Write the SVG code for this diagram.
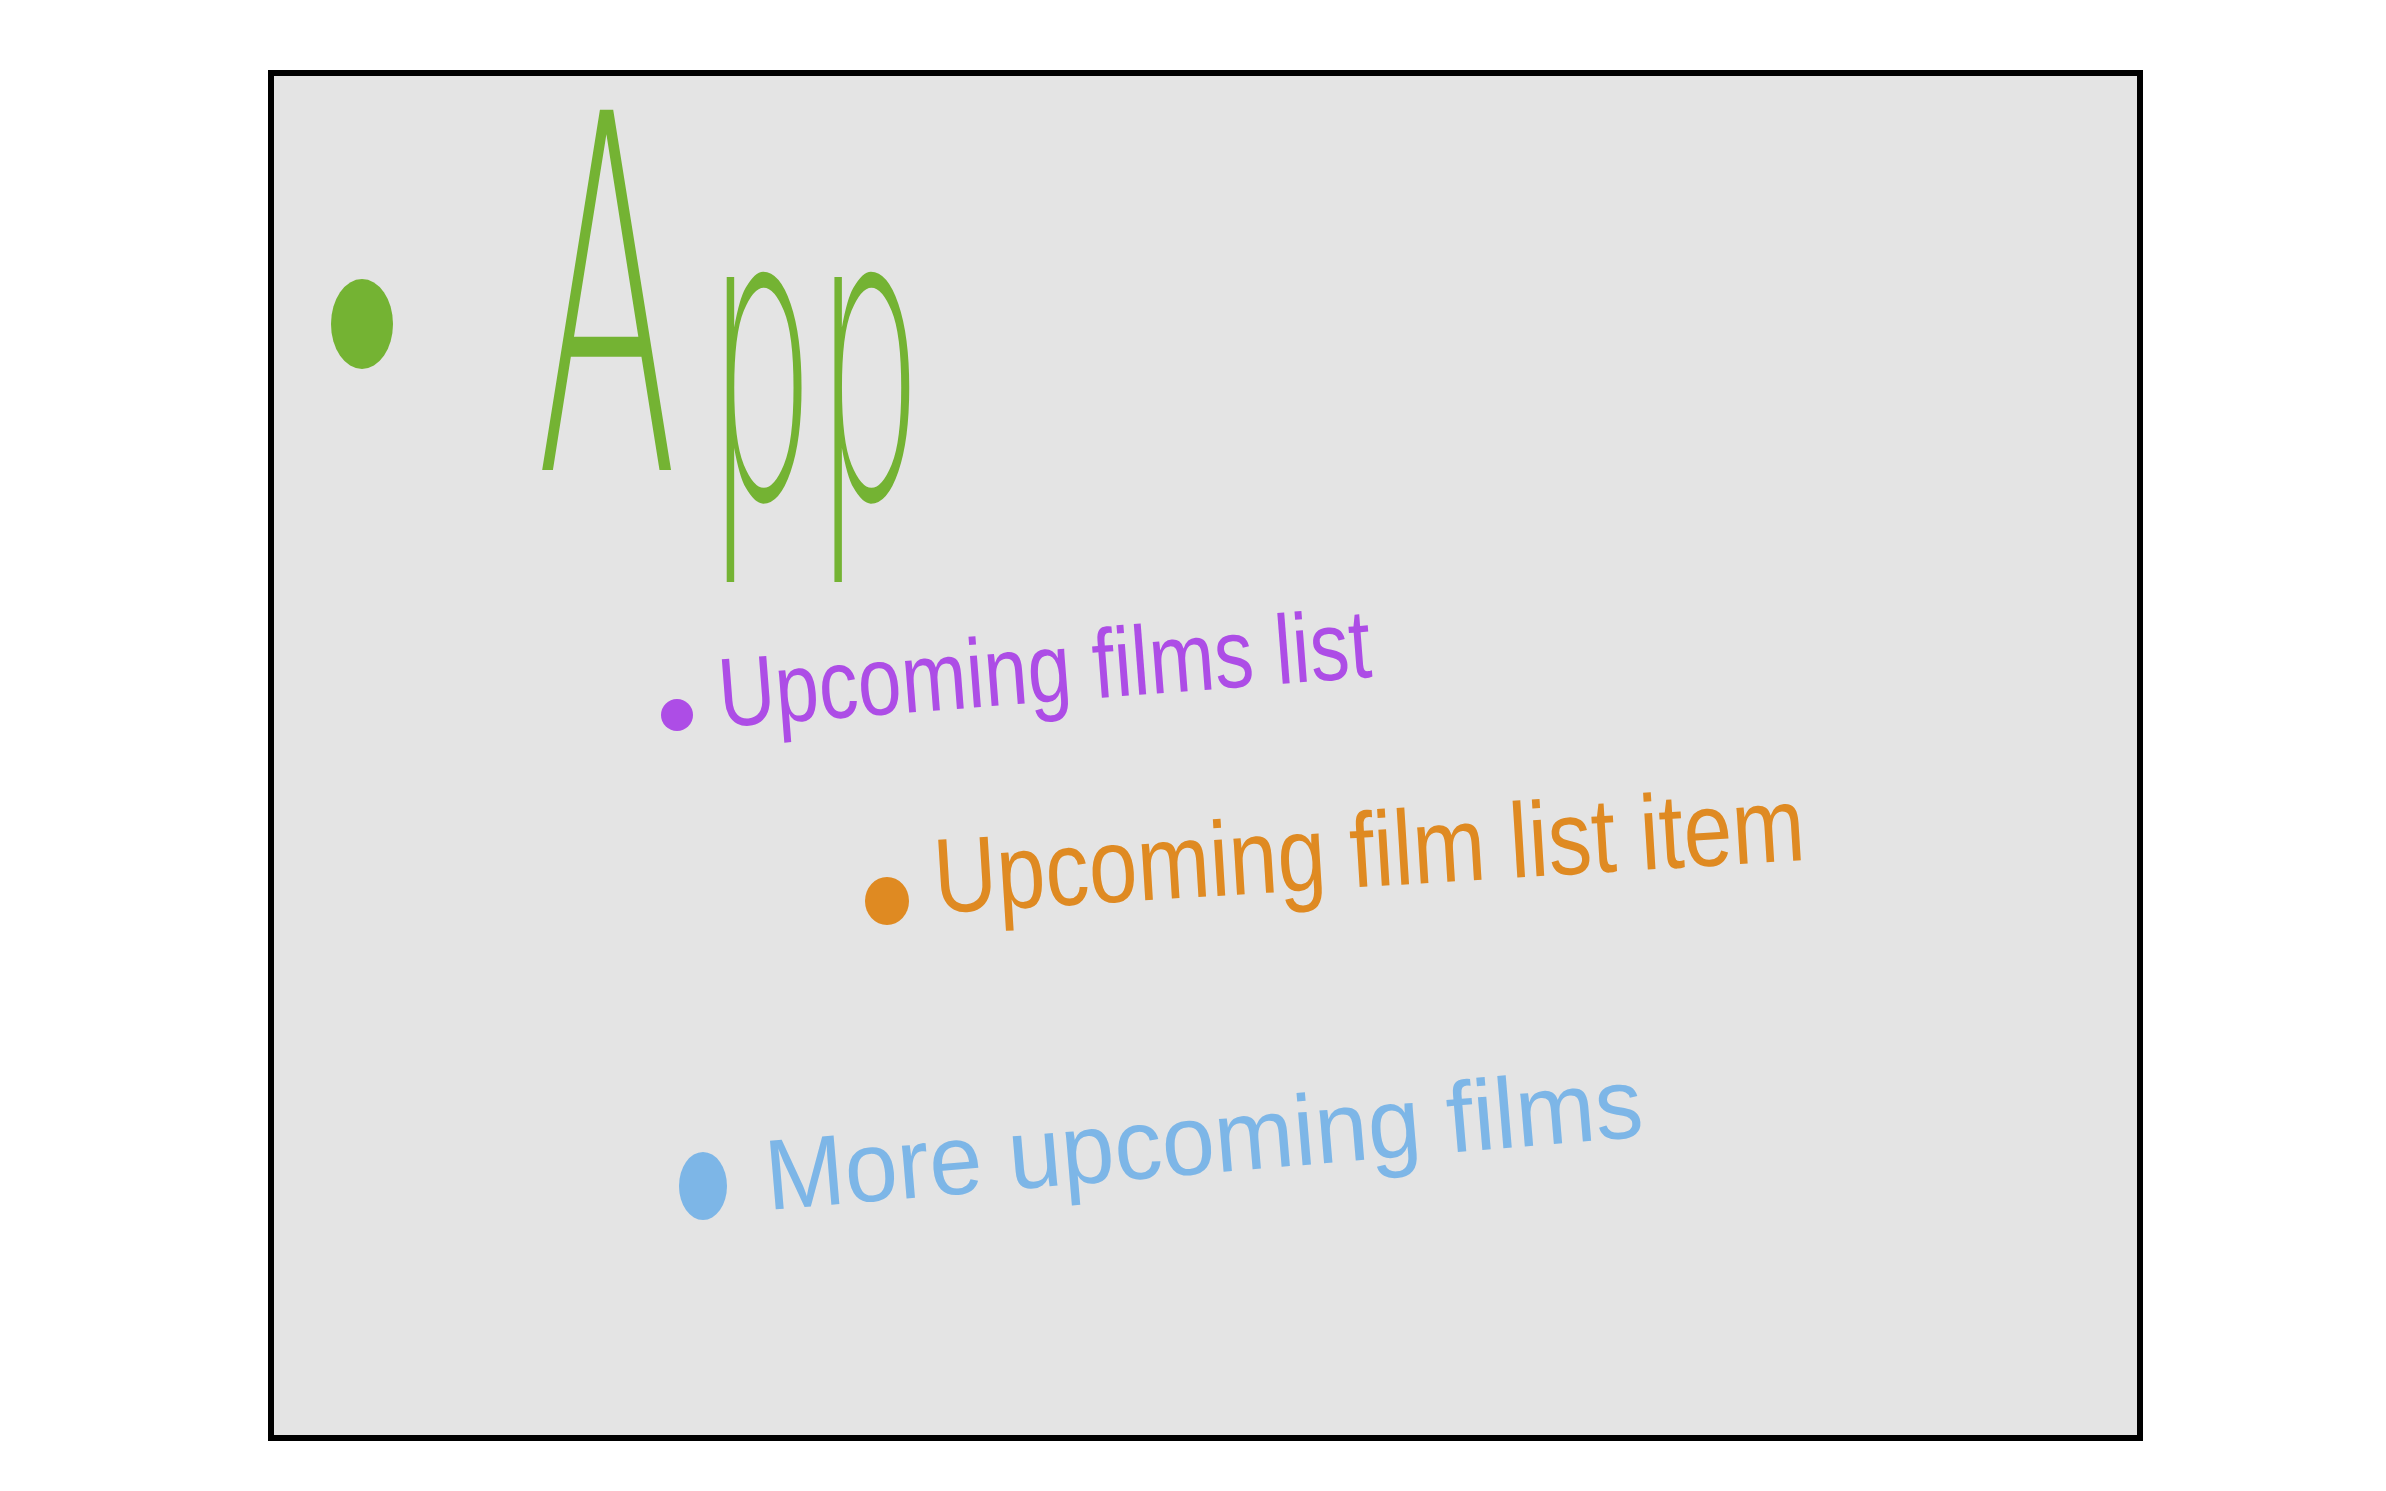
<svg xmlns="http://www.w3.org/2000/svg" width="2386" height="1491" viewBox="0 0 2386 1491">
  <style>
    .frame { fill: #e4e4e4; stroke: #000000; stroke-width: 6; }
    .hand { font-family: "Liberation Sans", Arial, sans-serif; }
    .green { fill: #74b333; }
    .purple { fill: #ad4de6; }
    .orange { fill: #df8a22; }
    .blue { fill: #7db6e7; }
  </style>
  <rect x="0" y="0" width="2386" height="1491" fill="#ffffff"/>
  <rect class="frame" x="271" y="73" width="1869" height="1365"/>

  <g id="app">
    <ellipse class="green" cx="362" cy="324" rx="31" ry="45"/>
    <text class="green" x="1276.2" y="470" transform="scale(0.42 1)" font-family="'DejaVu Sans', sans-serif" font-weight="200"><tspan font-size="494">A</tspan><tspan font-size="404" dx="70" dy="28">pp</tspan></text>
  </g>

  <g id="upcoming-films-list">
    <circle class="purple" cx="677" cy="715" r="16"/>
    <text class="hand purple" x="721" y="727" font-size="98" textLength="654" lengthAdjust="spacingAndGlyphs" transform="rotate(-4.4 721 727)">Upcoming films list</text>
  </g>

  <g id="upcoming-film-list-item">
    <ellipse class="orange" cx="887" cy="901" rx="22" ry="24"/>
    <text class="hand orange" x="936" y="913" font-size="106" textLength="872" lengthAdjust="spacingAndGlyphs" transform="rotate(-3.5 936 913)">Upcoming film list item</text>
  </g>

  <g id="more-upcoming-films">
    <ellipse class="blue" cx="703" cy="1186" rx="24" ry="34"/>
    <text class="hand blue" x="768" y="1210" font-size="100" textLength="880" lengthAdjust="spacingAndGlyphs" transform="rotate(-4.8 768 1210)">More upcoming films</text>
  </g>
</svg>
